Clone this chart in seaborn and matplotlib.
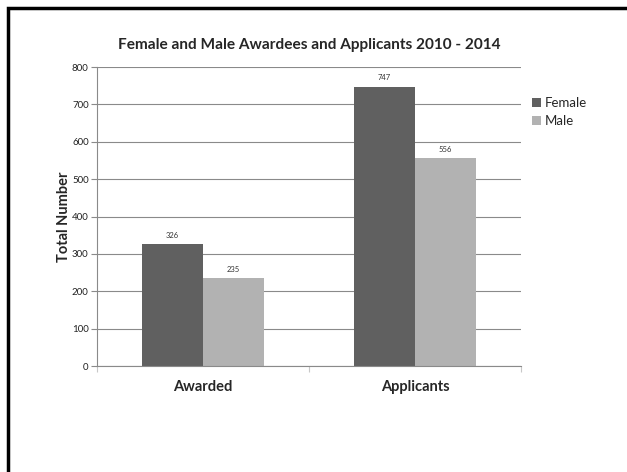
import matplotlib
matplotlib.use("Agg")
import matplotlib.pyplot as plt
import seaborn as sns
import pandas as pd
from matplotlib.patches import Patch, Rectangle

categories = ["Awarded", "Applicants"]
female = [326, 747]
male = [235, 556]
series = ["Female", "Male"]
colors = {"Female": "#606060", "Male": "#b2b2b2"}

df = pd.DataFrame({
    "cat": categories * 2,
    "val": female + male,
    "sex": ["Female"] * 2 + ["Male"] * 2,
})

sns.set_theme(style="white")
plt.rcParams["font.family"] = ["Lato", "DejaVu Sans"]

fig = plt.figure(figsize=(6.27, 4.72), dpi=100)
ax = fig.add_axes([97/627, 1-366/472, (521-97)/627, (366-67)/472])

sns.barplot(data=df, x="cat", y="val", hue="sex", order=categories,
            hue_order=series, palette=colors, width=0.575, ax=ax,
            saturation=1, legend=False, edgecolor="none")

ax.set_ylim(0, 800)
ax.set_xlim(-0.5, 1.5)
ax.set_yticks(range(0, 801, 100))
ax.yaxis.grid(True, color="#8a8a8a", linewidth=0.8)
ax.set_axisbelow(True)
for s in ["top", "right"]:
    ax.spines[s].set_visible(False)
for s in ["left", "bottom"]:
    ax.spines[s].set_color("#8a8a8a")
    ax.spines[s].set_linewidth(0.8)

ax.tick_params(axis="y", labelsize=7, length=4, width=0.8, color="#8a8a8a",
               left=True, pad=2, labelcolor="#222222")
ax.tick_params(axis="x", labelsize=10.5, length=0, pad=10)
for lbl in ax.get_xticklabels():
    lbl.set_fontweight("bold")
ax.set_xticks([-0.5, 0.5, 1.5], minor=True)
ax.tick_params(axis="x", which="minor", length=4, width=0.8, color="#c8c8c8", bottom=True)

ax.set_xlabel("")
ax.set_ylabel("Total Number", fontsize=10.5, fontweight="bold", labelpad=1)

for c in ax.containers:
    ax.bar_label(c, fmt="%d", fontsize=5.5, padding=4, color="#333333")

fig.text(309/627, 1-45/472, "Female and Male Awardees and Applicants 2010 - 2014",
         ha="center", va="center", fontsize=11.1, fontweight="bold")

handles = [Patch(facecolor=colors[s], edgecolor="none") for s in series]
fig.legend(handles, series, loc="upper left", bbox_to_anchor=(532/627, 1-97/472),
           frameon=False, fontsize=9.5, handlelength=0.7, handleheight=0.7,
           handletextpad=0.3, labelspacing=0.45, borderaxespad=0, borderpad=0)

# frame border: only the left and top edges fall inside the canvas
fig.add_artist(Rectangle((8/627, -1), 2, 2 - 8/472, transform=fig.transFigure,
                         fill=False, edgecolor="black", linewidth=2.5))

fig.savefig("out.png", dpi=100)
